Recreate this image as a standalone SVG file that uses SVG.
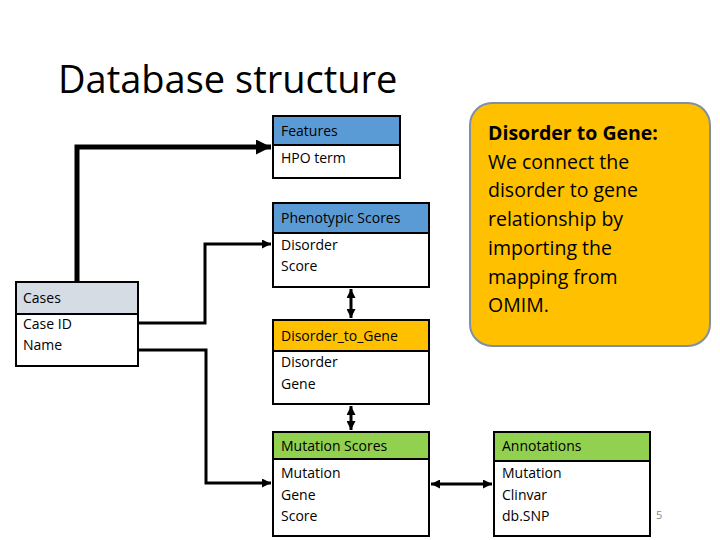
<svg xmlns="http://www.w3.org/2000/svg" width="720" height="540" viewBox="0 0 720 540">
<defs>
<style>
text{font-family:"Open Sans","Liberation Sans",sans-serif;fill:#000}
.t{font-size:14px}
.b{fill:#fff;stroke:#000;stroke-width:2}
.h{stroke:#000;stroke-width:2}
.c{fill:none;stroke:#000;stroke-width:3}
</style>
<marker id="a" viewBox="0 0 6 6" refX="6" refY="3" markerWidth="3" markerHeight="3" orient="auto-start-reverse"><path d="M0,0L6,3L0,6z" fill="#000"/></marker>
</defs>
<rect width="720" height="540" fill="#fff"/>
<text x="58" y="93" style="font-size:38px;font-family:'Open Sans','Liberation Sans',sans-serif">Database structure</text>
<g id="connectors">
<path class="c" d="M77,282V147H271" stroke-width="5" style="stroke-width:5" marker-end="url(#a)"/>
<path class="c" d="M138,323H205V244H271" marker-end="url(#a)"/>
<path class="c" d="M138,350H206V483H271" marker-end="url(#a)"/>
<path class="c" d="M351,289V318" marker-start="url(#a)" marker-end="url(#a)"/>
<path class="c" d="M351,406V430" marker-start="url(#a)" marker-end="url(#a)"/>
<path class="c" d="M431,484H492" marker-start="url(#a)" marker-end="url(#a)"/>
</g>
<g id="features"><rect class="b" x="273" y="116" width="127" height="62"/><rect class="h" x="273" y="116" width="127" height="29" fill="#5B9BD5"/><text class="t" x="281" y="136">Features</text><text class="t" x="281" y="163">HPO term</text></g>
<g id="phenotypic"><rect class="b" x="273" y="203" width="156" height="84"/><rect class="h" x="273" y="203" width="156" height="30" fill="#5B9BD5"/><text class="t" x="281" y="223">Phenotypic Scores</text><text class="t" x="281" y="250">Disorder</text><text class="t" x="281" y="271">Score</text></g>
<g id="cases"><rect class="b" x="16" y="282" width="122" height="84"/><rect class="h" x="16" y="282" width="122" height="32" fill="#D6DCE4"/><text class="t" x="23" y="303">Cases</text><text class="t" x="23" y="329">Case ID</text><text class="t" x="23" y="350">Name</text></g>
<g id="d2g"><rect class="b" x="273" y="320" width="156" height="84"/><rect class="h" x="273" y="320" width="156" height="31" fill="#FFC000"/><text class="t" x="281" y="341">Disorder_to_Gene</text><text class="t" x="281" y="367">Disorder</text><text class="t" x="281" y="389">Gene</text></g>
<g id="mutation"><rect class="b" x="273" y="432" width="156" height="104"/><rect class="h" x="273" y="432" width="156" height="27" fill="#92D050"/><text class="t" x="281" y="451">Mutation Scores</text><text class="t" x="281" y="478">Mutation</text><text class="t" x="281" y="500">Gene</text><text class="t" x="281" y="521">Score</text></g>
<g id="annotations"><rect class="b" x="494" y="432" width="156" height="104"/><rect class="h" x="494" y="432" width="156" height="29" fill="#92D050"/><text class="t" x="502" y="451">Annotations</text><text class="t" x="502" y="478">Mutation</text><text class="t" x="502" y="500">Clinvar</text><text class="t" x="502" y="521">db.SNP</text></g>
<g id="callout"><rect x="470" y="103" width="240" height="243" rx="22" fill="#FFC000" stroke="#7F8FA6" stroke-width="2"/>
<g style="font-size:19.5px"><text x="488" y="140" font-weight="bold">Disorder to Gene:</text><text x="488" y="169">We connect the</text><text x="488" y="197">disorder to gene</text><text x="488" y="226">relationship by</text><text x="488" y="255">importing the</text><text x="488" y="284">mapping from</text><text x="488" y="312">OMIM.</text></g></g>
<text x="656" y="519" style="font-size:11px;fill:#888">5</text>
</svg>
